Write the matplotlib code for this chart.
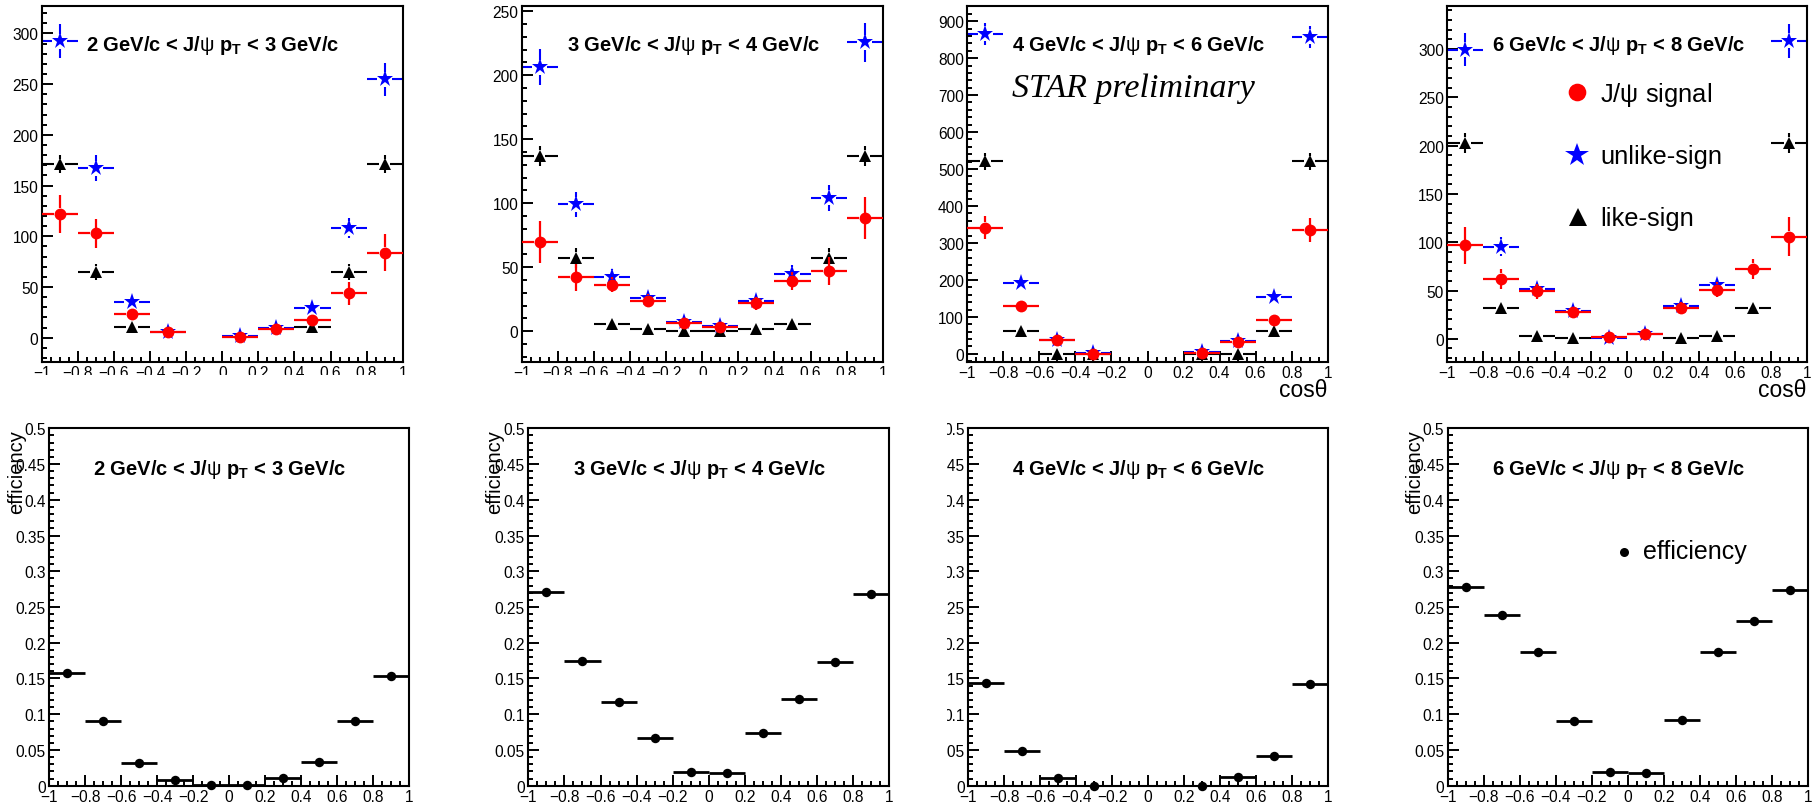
import numpy as np
import matplotlib
matplotlib.use("Agg")
import matplotlib.pyplot as plt
from matplotlib.collections import LineCollection
from matplotlib.ticker import MultipleLocator, FuncFormatter
from matplotlib.transforms import Bbox, TransformedBbox

plt.rcParams['font.family'] = ['Liberation Sans', 'DejaVu Sans']
plt.rcParams['mathtext.fontset'] = 'custom'
plt.rcParams['mathtext.rm'] = 'Liberation Sans'
plt.rcParams['mathtext.it'] = 'Liberation Sans:italic'
plt.rcParams['mathtext.bf'] = 'Liberation Sans:bold'

nan = np.nan

# ---------------- data ----------------
cos_centers = [-0.9, -0.7, -0.5, -0.3, -0.1, 0.1, 0.3, 0.5, 0.7, 0.9]
bin_half_width = 0.1

pt_bins = [("2", "3"), ("3", "4"), ("4", "6"), ("6", "8")]

# 2-3 GeV/c
sig_1 = [122, 102.7, 23.6, 5.3, nan, 1.0, 8.9, 17.7, 43.6, 83.7]
sig_err_1 = [19, 14, 6, 2.5, nan, 1, 3, 6, 11, 18.4]
us_1 = [292.4, 167, 34.8, 5.3, nan, 1.3, 9.5, 29, 108, 254.7]
us_err_1 = [17, 13, 6, 2.3, nan, 1.1, 3, 5.4, 10, 16]
ls_1 = [171, 65, 10.8, nan, nan, nan, nan, 10.8, 65, 171]
ls_err_1 = [9, 8, 3.3, nan, nan, nan, nan, 3.3, 8, 9]

# 3-4 GeV/c
sig_2 = [69.5, 42.1, 36.4, 24, 6.5, 3.6, 21.9, 39.5, 47, 88.4]
sig_err_2 = [16.4, 10.8, 6, 5, 3, 2, 5, 7, 11, 16.6]
us_2 = [206.3, 99.1, 42.1, 26, 7, 4.4, 24, 44.7, 104.3, 225.5]
us_err_2 = [14, 10, 6.5, 5, 2.6, 2, 5, 6.7, 10, 15]
ls_2 = [136.8, 57.2, 5.7, 1.8, 0.5, 0.5, 1.8, 5.7, 57.2, 136.8]
ls_err_2 = [8, 7.6, 2.4, 1.3, 0.7, 0.7, 1.3, 2.4, 7.6, 8]

# 4-6 GeV/c
sig_3 = [341.8, 130.8, 37, 0.5, nan, nan, 2.7, 33.4, 92.9, 334.6]
sig_err_3 = [32, 16, 7, 1.5, nan, nan, 2, 6, 14, 33]
us_3 = [865.7, 193, 38.8, 2, nan, nan, 4.5, 34, 155, 857.6]
us_err_3 = [29, 14, 6, 1.4, nan, nan, 2, 6, 12.5, 29]
ls_3 = [521, 61.3, 0, 0, nan, nan, 0, 0, 61.3, 521]
ls_err_3 = [23, 8, 0, 0, nan, nan, 0, 0, 8, 23]

# 6-8 GeV/c
sig_4 = [96.6, 62, 49, 27.6, 1.7, 4.5, 31.7, 51, 72.4, 105.9]
sig_err_4 = [19.6, 10.7, 7.5, 5.5, 1.5, 2.3, 6, 7.5, 10.7, 20]
us_4 = [299.3, 95.2, 51.7, 29.3, 0.7, 5.2, 33.8, 55.2, nan, 308.6]
us_err_4 = [17, 9.8, 7.2, 5.4, 0.8, 2.3, 5.8, 7.4, nan, 17.6]
ls_4 = [202.8, 32, 2.8, 1, nan, nan, 1, 2.8, 32, 202.8]
ls_err_4 = [10, 5.7, 1.7, 1, nan, nan, 1, 1.7, 5.7, 10]

# efficiency
eff_1 = [0.1575, 0.0907, 0.0322, 0.0079, 0.0005, 0.0005, 0.0107, 0.0336, 0.0907, 0.1528]
eff_2 = [0.2715, 0.1743, 0.1164, 0.0668, 0.0187, 0.0178, 0.0743, 0.121, 0.1734, 0.2678]
eff_3 = [0.1439, 0.0481, 0.0107, 0.0002, nan, nan, 0.0002, 0.0117, 0.042, 0.1416]
eff_4 = [0.2785, 0.2393, 0.1864, 0.0902, 0.0196, 0.0182, 0.0921, 0.1864, 0.2308, 0.2738]

signals = [sig_1, sig_2, sig_3, sig_4]
signal_errs = [sig_err_1, sig_err_2, sig_err_3, sig_err_4]
unlikes = [us_1, us_2, us_3, us_4]
unlike_errs = [us_err_1, us_err_2, us_err_3, us_err_4]
likes = [ls_1, ls_2, ls_3, ls_4]
like_errs = [ls_err_1, ls_err_2, ls_err_3, ls_err_4]
effs = [eff_1, eff_2, eff_3, eff_4]

top_ylims = [(-24, 327), (-24, 254), (-22, 941), (-24, 344.5)]
top_major = [50, 50, 100, 50]
top_minor = [10, 10, 20, 10]

legend_labels = [r"J/$\mathrm{\psi}$ signal", "unlike-sign", "like-sign"]

# ---------------- layout ----------------
W, H = 1820, 803
fig = plt.figure(figsize=(W / 100, H / 100), dpi=100)


def frect(x0, y0, x1, y1):
    return [x0 / W, 1 - y1 / H, (x1 - x0) / W, (y1 - y0) / H]


def fpt(x, y):
    return (x / W, 1 - y / H)


top_px = [(41.7, 7, 402.7, 363), (521.7, 7, 882.7, 363),
          (967.3, 7, 1327.7, 363), (1447.3, 7, 1807.3, 363)]
bot_px = [(49, 429.3, 409.3, 786.7), (528.3, 429.3, 889.3, 786.7),
          (968, 429.3, 1328.3, 786.7), (1447.7, 429.3, 1808.3, 786.7)]


def fmt(v, p):
    v = round(v, 6)
    if v == 0:
        return "0"
    return ("%g" % v).replace("-", "\u2212")


def style_axes(ax):
    for s in ax.spines.values():
        s.set_linewidth(1.5)
    ax.tick_params(which='both', direction='in', top=False, right=False,
                   labelsize=11.2, pad=2.5, width=1.4)
    ax.tick_params(which='major', length=7.8)
    ax.tick_params(which='minor', length=3.8)
    ax.xaxis.set_major_locator(MultipleLocator(0.2))
    ax.xaxis.set_minor_locator(MultipleLocator(0.05))
    ax.xaxis.set_major_formatter(FuncFormatter(fmt))
    ax.yaxis.set_major_formatter(FuncFormatter(fmt))
    ax.set_xlim(-1, 1)


def bars(ax, x, y, xe, ye, color, gap, lw, z):
    pos = ax.get_position()
    wpx = pos.width * W
    hpx = pos.height * H
    x0, x1 = ax.get_xlim()
    y0, y1 = ax.get_ylim()
    gx = gap * (x1 - x0) / wpx
    gy = gap * (y1 - y0) / hpx
    segs = []
    for xi, yi, xei, yei in zip(x, y, xe, ye):
        if np.isnan(yi):
            continue
        if xei > gx:
            segs.append([(xi - xei, yi), (xi - gx, yi)])
            segs.append([(xi + gx, yi), (xi + xei, yi)])
        if not np.isnan(yei) and yei > gy:
            segs.append([(xi, yi + gy), (xi, yi + yei)])
            segs.append([(xi, yi - yei), (xi, yi - gy)])
    ax.add_collection(LineCollection(segs, colors=color, linewidths=lw,
                                     zorder=z, capstyle='butt'))


def title_text(i):
    lo, hi = pt_bins[i]
    return (lo + r" GeV/c < J/$\mathrm{\psi}$ p$_{\mathbf{T}}$ < " + hi + " GeV/c")


xh = [bin_half_width] * len(cos_centers)

top_axes = []
for i in range(4):
    ax = fig.add_axes(frect(*top_px[i]))
    style_axes(ax)
    ax.set_ylim(*top_ylims[i])
    ax.yaxis.set_major_locator(MultipleLocator(top_major[i]))
    ax.yaxis.set_minor_locator(MultipleLocator(top_minor[i]))
    # unlike-sign
    bars(ax, cos_centers, unlikes[i], xh, unlike_errs[i], 'blue', 7.5, 1.5, 2)
    ax.plot(cos_centers, unlikes[i], ls='none', marker='*', ms=12.5,
            color='blue', mew=0, zorder=2.1)
    # like-sign
    bars(ax, cos_centers, likes[i], xh, like_errs[i], 'black', 5.7, 1.5, 3)
    ax.plot(cos_centers, likes[i], ls='none', marker='^', ms=8.5,
            color='black', mew=0, zorder=3.1)
    # signal
    bars(ax, cos_centers, signals[i], xh, signal_errs[i], 'red', 5.5, 1.6, 4)
    ax.plot(cos_centers, signals[i], ls='none', marker='o', ms=8.5,
            color='red', mew=0, zorder=4.1)
    top_axes.append(ax)

bot_axes = []
for i in range(4):
    ax = fig.add_axes(frect(*bot_px[i]))
    style_axes(ax)
    ax.set_ylim(0, 0.5)
    ax.yaxis.set_major_locator(MultipleLocator(0.05))
    ax.yaxis.set_minor_locator(MultipleLocator(0.01))
    bars(ax, cos_centers, effs[i], xh, [0] * len(cos_centers), 'black', 4, 2.0, 3)
    ax.plot(cos_centers, effs[i], ls='none', marker='o', ms=6.8,
            color='black', mew=0, zorder=3.1, clip_on=False)
    bot_axes.append(ax)

# clipped tick labels (like the original canvas pads)
clip_top = TransformedBbox(Bbox.from_extents(0, 1 - 376 / H, 1, 1), fig.transFigure)
for ax in top_axes[:2]:
    for lab in ax.get_xticklabels():
        lab.set_clip_on(True)
        lab.set_clip_box(clip_top)
clip_p7 = TransformedBbox(Bbox.from_extents(947 / W, 0, 1, 1), fig.transFigure)
for lab in bot_axes[2].get_yticklabels():
    lab.set_clip_on(True)
    lab.set_clip_box(clip_p7)

# titles
title_pos_top = [(86, 50.6), (566.7, 50.6), (1011.7, 50.6), (1491.7, 50.6)]
title_pos_bot = [(93.3, 475.5), (573.3, 475.5), (1011.7, 475.5), (1491.7, 475.5)]
for i in range(4):
    fig.text(*fpt(*title_pos_top[i]), title_text(i), fontsize=14.5,
             fontweight='bold', ha='left', va='baseline')
    fig.text(*fpt(*title_pos_bot[i]), title_text(i), fontsize=14.5,
             fontweight='bold', ha='left', va='baseline')

# STAR preliminary
fig.text(*fpt(1011.7, 96.7), "STAR preliminary", fontsize=24.5,
         family=['Liberation Serif'], style='italic', ha='left', va='baseline')

# cos theta labels
for xr in (1327.5, 1806.5):
    fig.text(*fpt(xr, 397), "cos\u03b8", fontsize=16.5, ha='right', va='baseline')

# efficiency y labels
for xc in (16.7, 495, 1414.5):
    fig.text(*fpt(xc, 430), "efficiency", fontsize=14.5, rotation=90,
             ha='center', va='top')

# legend in panel 4
ax4 = top_axes[3]
leg = [((1576.7, 93.3), 'o', 'red', 12.7, 102),
       ((1577, 156), '*', 'blue', 17.5, 164),
       ((1578, 218), '^', 'black', 12.7, 226)]
for (mx, my), m, c, ms, base in leg:
    ax4.plot([mx / W], [1 - my / H], marker=m, ms=ms, color=c, mew=0,
             transform=fig.transFigure, clip_on=False, ls='none')
for (lab, (_, _, _, _, base)) in zip(legend_labels, leg):
    fig.text(*fpt(1600, base), lab, fontsize=18.4, ha='left', va='baseline')

# legend in panel 8
ax8 = bot_axes[3]
ax8.plot([1624.3 / W], [1 - 552.7 / H], marker='o', ms=6.5, color='black',
         mew=0, transform=fig.transFigure, clip_on=False, ls='none')
fig.text(*fpt(1643.3, 559), "efficiency", fontsize=18, ha='left', va='baseline')

fig.savefig("out.png", dpi=100)
